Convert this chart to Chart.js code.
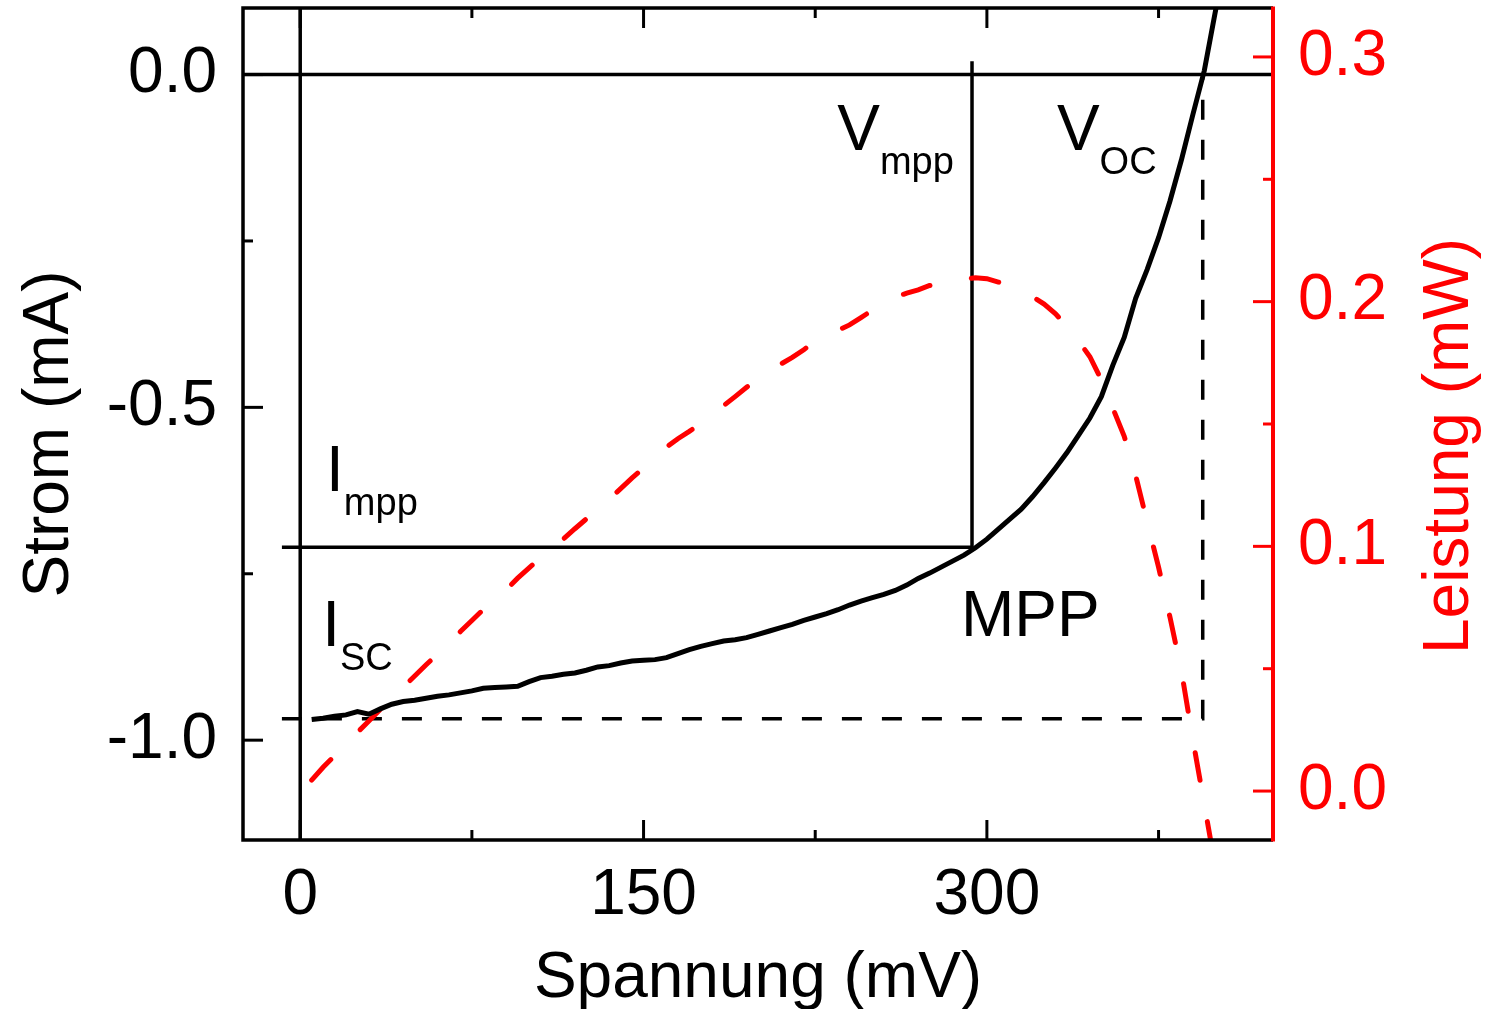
<!DOCTYPE html>
<html>
<head>
<meta charset="utf-8">
<title>Kennlinie Solarzelle</title>
<script src="https://cdn.jsdelivr.net/npm/chart.js@4.4.1/dist/chart.umd.min.js"></script>
<style>
  html, body { margin: 0; padding: 0; background: #fff; }
  #wrap { width: 1493px; height: 1009px; }
</style>
</head>
<body>
<div id="wrap"><canvas id="chart" width="1493" height="1009"></canvas></div>
<script>
// I-V curve (black), Spannung in mV / Strom in mA
const ivVoltage = [5, 10, 15, 20, 25, 30, 35, 40, 45, 50, 55, 60, 65, 70, 75, 80, 85, 90, 95, 100,
  105, 110, 115, 120, 125, 130, 135, 140, 145, 150, 155, 160, 165, 170, 175, 180, 185, 190, 195, 200,
  205, 210, 215, 220, 225, 230, 235, 240, 245, 250, 255, 260, 265, 270, 275, 280, 285, 290, 295, 300,
  305, 310, 315, 320, 325, 330, 335, 340, 345, 350, 355, 360, 365, 370, 375, 380, 385, 390, 395, 400, 405];
const ivCurrent = [-0.969, -0.967, -0.964, -0.962, -0.957, -0.961, -0.953, -0.946, -0.942, -0.940,
  -0.937, -0.934, -0.932, -0.929, -0.926, -0.922, -0.921, -0.920, -0.919, -0.912,
  -0.906, -0.904, -0.901, -0.899, -0.895, -0.890, -0.888, -0.884, -0.881, -0.880,
  -0.879, -0.876, -0.870, -0.864, -0.859, -0.855, -0.851, -0.849, -0.846, -0.841,
  -0.836, -0.831, -0.826, -0.820, -0.815, -0.810, -0.804, -0.797, -0.791, -0.786,
  -0.781, -0.775, -0.767, -0.757, -0.749, -0.740, -0.731, -0.722, -0.711, -0.698,
  -0.683, -0.668, -0.653, -0.634, -0.613, -0.591, -0.568, -0.542, -0.516, -0.484,
  -0.437, -0.395, -0.336, -0.293, -0.245, -0.190, -0.128, -0.060, 0.006, 0.098, 0.160];

// power curve (red dashed), Spannung in mV / Leistung in mW
const powerVoltage = [5, 10, 15, 20, 25, 30, 35, 40, 45, 50, 55, 60, 65, 70, 75, 80, 85, 90, 95, 100,
  105, 110, 115, 120, 125, 130, 135, 140, 145, 150, 155, 160, 165, 170, 175, 180, 185, 190, 195, 200,
  205, 210, 215, 220, 225, 230, 235, 240, 245, 250, 255, 260, 265, 270, 275, 280, 285, 290, 295, 300,
  305, 310, 315, 320, 325, 330, 335, 340, 345, 350, 355, 360, 365, 370, 375, 380, 385, 390, 395, 400];
const power = [0.0045, 0.0097, 0.0144, 0.0193, 0.0240, 0.0286, 0.0334, 0.0378, 0.0425, 0.0470,
  0.0516, 0.0560, 0.0603, 0.0652, 0.0697, 0.0742, 0.0781, 0.0823, 0.0870, 0.0912,
  0.0953, 0.0990, 0.1030, 0.1072, 0.1112, 0.1153, 0.1193, 0.1236, 0.1280, 0.1320,
  0.1362, 0.1405, 0.1440, 0.1470, 0.1502, 0.1540, 0.1575, 0.1612, 0.1650, 0.1681,
  0.1712, 0.1745, 0.1772, 0.1803, 0.1841, 0.1862, 0.1883, 0.1905, 0.1935, 0.1965,
  0.1995, 0.2018, 0.2035, 0.2048, 0.2066, 0.2075, 0.2082, 0.2092, 0.2098, 0.2094,
  0.2080, 0.2068, 0.2042, 0.2020, 0.1990, 0.1950, 0.1900, 0.1840, 0.1775, 0.1680,
  0.1565, 0.1450, 0.1290, 0.1100, 0.0915, 0.0710, 0.0490, 0.0210, -0.0055, -0.0320];

// characteristic points
const V_MPP = 293.5;
const I_MPP = -0.71;
const I_SC = -0.968;
const V_OC = 394.3;
const MARK_START = -8;      // mV, where the marker lines begin
const V_MPP_TOP = 0.02;     // mA, top end of the V_mpp line

// axis ranges and ticks
const X_MIN = -25, X_MAX = 425;
const I_MIN = -1.15, I_MAX = 0.1;
const P_MIN = -0.02, P_MAX = 0.32;
const xTicks = [0, 150, 300];
const xMinorTicks = [75, 225, 375];
const iTicks = [-1.0, -0.5, 0.0];
const iMinorTicks = [-0.75, -0.25];
const pTicks = [0.0, 0.1, 0.2, 0.3];
const pMinorTicks = [0.05, 0.15, 0.25];

// text labels, anchored in data units (mV, mA)
const labels = [
  { main: 'V', sub: 'mpp', v: 234.6, i: -0.113 },
  { main: 'V', sub: 'OC', v: 330.6, i: -0.113 },
  { main: 'I', sub: 'mpp', v: 11.3, i: -0.626 },
  { main: 'I', sub: 'SC', v: 9.6, i: -0.859 },
  { main: 'MPP', sub: '', v: 288.7, i: -0.844 }
];

const FONT = "'Liberation Sans', Arial, sans-serif";
const RED = '#ff0000';

const pts = (xs, ys) => xs.map((x, k) => ({ x, y: ys[k] }));

const frame = {
  id: 'frame',
  afterDatasetsDraw(chart) {
    const { ctx, chartArea: a, scales: { x, y, y1 } } = chart;
    const seg = (x1, y1_, x2, y2) => { ctx.beginPath(); ctx.moveTo(x1, y1_); ctx.lineTo(x2, y2); ctx.stroke(); };
    ctx.save();
    ctx.lineCap = 'butt';
    ctx.strokeStyle = '#000';
    ctx.lineWidth = 3.5;
    ctx.beginPath();
    ctx.moveTo(a.right, a.top);
    ctx.lineTo(a.left, a.top);
    ctx.lineTo(a.left, a.bottom);
    ctx.lineTo(a.right, a.bottom);
    ctx.stroke();

    // inward ticks: bottom and top
    ctx.lineWidth = 3;
    xTicks.forEach(v => { const p = x.getPixelForValue(v); seg(p, a.bottom, p, a.bottom - 20); seg(p, a.top, p, a.top + 20); });
    xMinorTicks.forEach(v => { const p = x.getPixelForValue(v); seg(p, a.bottom, p, a.bottom - 10); seg(p, a.top, p, a.top + 10); });
    // left current axis
    iTicks.forEach(v => { const p = y.getPixelForValue(v); seg(a.left, p, a.left + 20, p); });
    iMinorTicks.forEach(v => { const p = y.getPixelForValue(v); seg(a.left, p, a.left + 10, p); });

    // right power axis in red
    ctx.strokeStyle = RED;
    ctx.lineWidth = 4;
    seg(a.right, a.top - 1.5, a.right, a.bottom + 1.5);
    ctx.lineWidth = 3;
    pTicks.forEach(v => { const p = y1.getPixelForValue(v); seg(a.right, p, a.right - 20, p); });
    pMinorTicks.forEach(v => { const p = y1.getPixelForValue(v); seg(a.right, p, a.right - 10, p); });
    ctx.restore();
  },
  afterDraw(chart) {
    const { ctx, chartArea: a, scales: { x, y } } = chart;
    ctx.save();
    ctx.fillStyle = '#000';
    ctx.textBaseline = 'alphabetic';
    ctx.textAlign = 'left';
    labels.forEach(l => {
      const px = x.getPixelForValue(l.v);
      const py = y.getPixelForValue(l.i);
      ctx.font = '64px ' + FONT;
      ctx.fillText(l.main, px, py);
      const w = ctx.measureText(l.main).width;
      if (l.sub) {
        ctx.font = '38px ' + FONT;
        ctx.fillText(l.sub, px + w, py + 24);
      }
    });

    // axis titles
    ctx.font = '64px ' + FONT;
    ctx.textAlign = 'center';
    ctx.fillText('Spannung (mV)', (a.left + a.right) / 2, 997);

    ctx.save();
    ctx.translate(68, 434);
    ctx.rotate(-Math.PI / 2);
    ctx.fillText('Strom (mA)', 0, 0);
    ctx.restore();

    ctx.save();
    ctx.fillStyle = RED;
    ctx.translate(1468, 446);
    ctx.rotate(-Math.PI / 2);
    ctx.fillText('Leistung (mW)', 0, 0);
    ctx.restore();
    ctx.restore();
  }
};

const tickFont = { family: FONT, size: 64 };

new Chart(document.getElementById('chart'), {
  type: 'line',
  data: {
    datasets: [
      {
        label: 'Strom',
        data: pts(ivVoltage, ivCurrent),
        yAxisID: 'y',
        borderColor: '#000',
        borderWidth: 5,
        pointRadius: 0,
        tension: 0
      },
      {
        label: 'Leistung',
        data: pts(powerVoltage, power),
        yAxisID: 'y1',
        borderColor: RED,
        borderWidth: 5,
        borderDash: [28, 42],
        borderCapStyle: 'round',
        pointRadius: 0,
        tension: 0
      },
      {
        label: 'I = 0',
        data: [{ x: X_MIN, y: 0 }, { x: X_MAX, y: 0 }],
        yAxisID: 'y',
        borderColor: '#000',
        borderWidth: 3.5,
        pointRadius: 0
      },
      {
        label: 'V = 0',
        data: [{ x: 0, y: I_MIN }, { x: 0, y: I_MAX }],
        yAxisID: 'y',
        borderColor: '#000',
        borderWidth: 3.5,
        pointRadius: 0
      },
      {
        label: 'MPP',
        data: [{ x: MARK_START, y: I_MPP }, { x: V_MPP, y: I_MPP }, { x: V_MPP, y: V_MPP_TOP }],
        yAxisID: 'y',
        borderColor: '#000',
        borderWidth: 3.5,
        pointRadius: 0
      },
      {
        label: 'Isc / Voc',
        data: [{ x: MARK_START, y: I_SC }, { x: V_OC, y: I_SC }, { x: V_OC, y: 0 }],
        yAxisID: 'y',
        borderColor: '#000',
        borderWidth: 3.5,
        borderDash: [20, 20],
        pointRadius: 0
      }
    ]
  },
  options: {
    responsive: false,
    animation: false,
    layout: { padding: { top: 8, left: 0, right: 0, bottom: 0 } },
    plugins: { legend: { display: false }, tooltip: { enabled: false } },
    scales: {
      x: {
        type: 'linear',
        min: X_MIN,
        max: X_MAX,
        grid: { display: false },
        border: { display: false },
        afterBuildTicks: s => { s.ticks = xTicks.map(v => ({ value: v })); },
        ticks: { font: tickFont, color: '#000', padding: 10, maxRotation: 0, autoSkip: false, callback: v => String(v) },
        afterFit: s => { s.height = 169; s.paddingLeft = 0; s.paddingRight = 0; }
      },
      y: {
        position: 'left',
        min: I_MIN,
        max: I_MAX,
        grid: { display: false },
        border: { display: false },
        afterBuildTicks: s => { s.ticks = iTicks.map(v => ({ value: v })); },
        ticks: { font: tickFont, color: '#000', padding: 18, autoSkip: false, callback: v => v.toFixed(1) },
        afterFit: s => { s.width = 243; s.paddingTop = 0; s.paddingBottom = 0; }
      },
      y1: {
        position: 'right',
        min: P_MIN,
        max: P_MAX,
        grid: { display: false },
        border: { display: false },
        afterBuildTicks: s => { s.ticks = pTicks.map(v => ({ value: v })); },
        ticks: { font: tickFont, color: RED, padding: 17, autoSkip: false, callback: v => v.toFixed(1) },
        afterFit: s => { s.width = 220; s.paddingTop = 0; s.paddingBottom = 0; }
      }
    }
  },
  plugins: [frame]
});
</script>
</body>
</html>
